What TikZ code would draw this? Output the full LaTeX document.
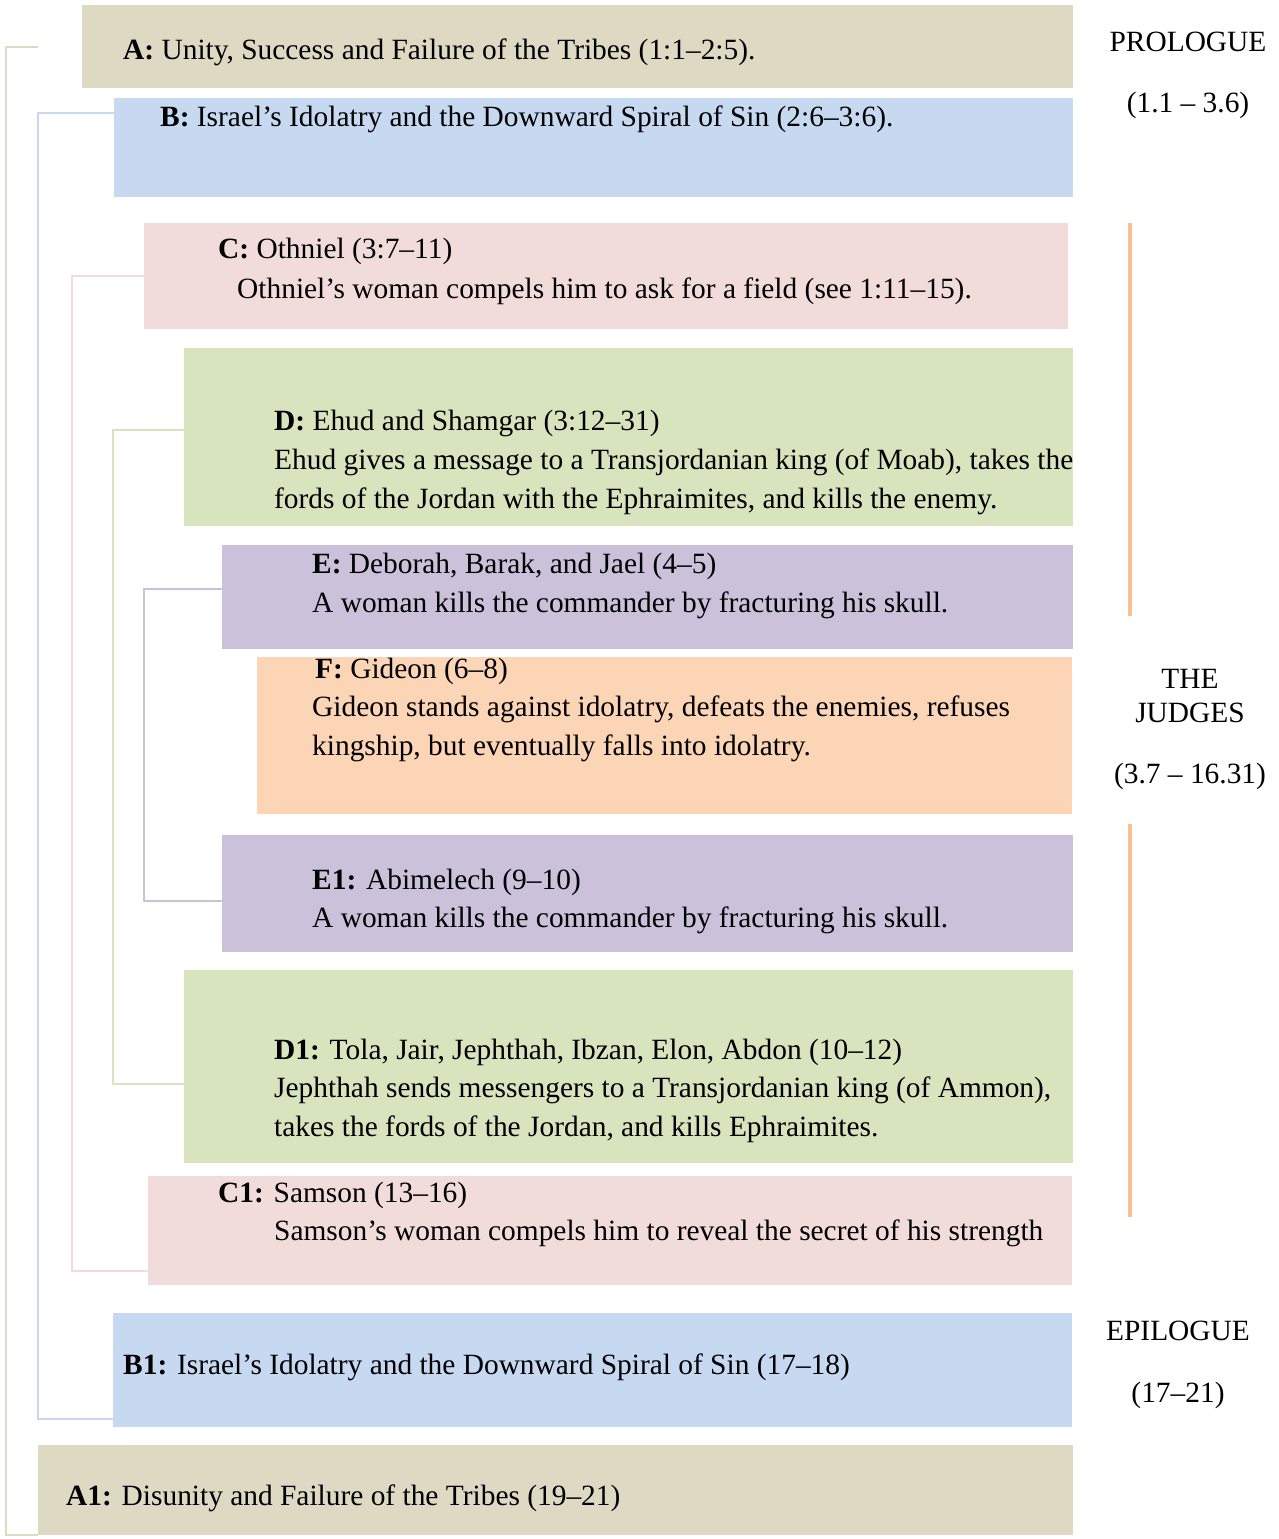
\documentclass[tikz,border=0pt]{standalone}
\usepackage{fontspec}
\setmainfont{Liberation Serif}
\usepackage{xcolor}
\usetikzlibrary{positioning, calc}
\definecolor{tanc}{HTML}{DDD9C3}
\definecolor{bluec}{HTML}{C6D9F1}
\definecolor{pinkc}{HTML}{F2DCDB}
\definecolor{greenc}{HTML}{D7E4BD}
\definecolor{purpc}{HTML}{CCC1DA}
\definecolor{orangec}{HTML}{FBD5B5}
\definecolor{rulec}{HTML}{FAC090}
\newcommand{\bodyfont}{\fontsize{29.4}{39}\selectfont}

\begin{document}
\begin{tikzpicture}[x=1pt, y=-1pt,
      blk/.style  = {anchor=north west, inner sep=0pt, draw=none},
      txt/.style  = {anchor=base west, inner sep=0pt, font=\bodyfont},
      side/.style = {anchor=base, inner sep=0pt, font=\bodyfont},
      link/.style = {line width=2pt}
    ]
    \useasboundingbox (0,0) rectangle (1279,1539);

    % boxes
    \node[blk, fill=tanc,    minimum width=991pt, minimum height=83pt]  (A)  at (82,5)    {};
    \node[blk, fill=bluec,   minimum width=959pt, minimum height=99pt]  (B)  at (114,98)  {};
    \node[blk, fill=pinkc,   minimum width=924pt, minimum height=106pt] (C)  at (144,223) {};
    \node[blk, fill=greenc,  minimum width=889pt, minimum height=178pt] (D)  at (184,348) {};
    \node[blk, fill=purpc,   minimum width=851pt, minimum height=104pt] (E)  at (222,545) {};
    \node[blk, fill=orangec, minimum width=815pt, minimum height=157pt] (F)  at (257,657) {};
    \node[blk, fill=purpc,   minimum width=851pt, minimum height=117pt] (E1) at (222,835) {};
    \node[blk, fill=greenc,  minimum width=889pt, minimum height=193pt] (D1) at (184,970) {};
    \node[blk, fill=pinkc,   minimum width=924pt, minimum height=109pt] (C1) at (148,1176) {};
    \node[blk, fill=bluec,   minimum width=959pt, minimum height=114pt] (B1) at (113,1313) {};
    \node[blk, fill=tanc,    minimum width=1035pt, minimum height=90pt] (A1) at (38,1445) {};

    % texts
    \node[txt] (tA)  at (123,59)  {\textbf{A:} Unity, Success and Failure of the Tribes (1:1--2:5).};
    \node[txt] (tB)  at (160,126) {\textbf{B:} Israel’s Idolatry and the Downward Spiral of Sin (2:6--3:6).};
    \node[txt] (tC)  at (218,258) {\textbf{C:} Othniel (3:7--11)};
    \node[txt] (tC2) at (237,298) {Othniel’s woman compels him to ask for a field (see 1:11--15).};
    \node[txt] (tD)  at (274,430) {\textbf{D:} Ehud and Shamgar (3:12--31)};
    \node[txt] (tD2) at (274,469) {Ehud gives a message to a Transjordanian king (of Moab), takes the};
    \node[txt] (tD3) at (274,508) {fords of the Jordan with the Ephraimites, and kills the enemy.};
    \node[txt] (tE)  at (312,573) {\textbf{E:} Deborah, Barak, and Jael (4--5)};
    \node[txt] (tE2) at (312,612) {A woman kills the commander by fracturing his skull.};
    \node[txt] (tF)  at (315,678) {\textbf{F:} Gideon (6--8)};
    \node[txt] (tF2) at (312,716) {Gideon stands against idolatry, defeats the enemies, refuses};
    \node[txt] (tF3) at (312,755) {kingship, but eventually falls into idolatry.};
    \node[txt] (tE1) at (312,889) {\textbf{E1:} Abimelech (9--10)};
    \node[txt] (tE12) at (312,927) {A woman kills the commander by fracturing his skull.};
    \node[txt] (tD1) at (274,1059) {\textbf{D1:} Tola, Jair, Jephthah, Ibzan, Elon, Abdon (10--12)};
    \node[txt] (tD12) at (274,1097) {Jephthah sends messengers to a Transjordanian king (of Ammon),};
    \node[txt] (tD13) at (274,1136) {takes the fords of the Jordan, and kills Ephraimites.};
    \node[txt] (tC1) at (218,1202) {\textbf{C1:} Samson (13--16)};
    \node[txt] (tC12) at (274,1240) {Samson’s woman compels him to reveal the secret of his strength};
    \node[txt] (tB1) at (123,1374) {\textbf{B1:} Israel’s Idolatry and the Downward Spiral of Sin (17--18)};
    \node[txt] (tA1) at (66,1505)  {\textbf{A1:} Disunity and Failure of the Tribes (19--21)};

    % sections on the right
    \node[side] (pro)  at (1188,51)   {PROLOGUE};
    \node[side] (prov) at (1188,112)  {(1.1 -- 3.6)};
    \node[side] (jud1) at (1190,688)  {THE};
    \node[side] (jud2) at (1190,722)  {JUDGES};
    \node[side] (judv) at (1190,783)  {(3.7 -- 16.31)};
    \node[side] (epi)  at (1178,1340) {EPILOGUE};
    \node[side] (epiv) at (1178,1402) {(17--21)};
    \draw[rulec, line width=4pt] (1130,223) -- (1130,616);
    \draw[rulec, line width=4pt] (1130,824) -- (1130,1217);

    % chiasm brackets
    \coordinate (ta) at (38,47);
    \draw[link, tanc]   (ta) -- ++(-32,0) |- (A1.south west);
    \draw[link, bluec]  ([yshift=-15pt]B.north west) -- ++(-76,0) |- ([yshift=8pt]B1.south west);
    \draw[link, pinkc]  (C.west) -- ++(-72,0) |- ([yshift=14pt]C1.south west);
    \draw[link, greenc] ([yshift=7pt]D.west) -- ++(-71,0) |- ([yshift=-17.5pt]D1.west);
    \draw[link, purpc]  ([yshift=8pt]E.west) -- ++(-78,0) |- ([yshift=-7.5pt]E1.west);
\end{tikzpicture}
\end{document}
